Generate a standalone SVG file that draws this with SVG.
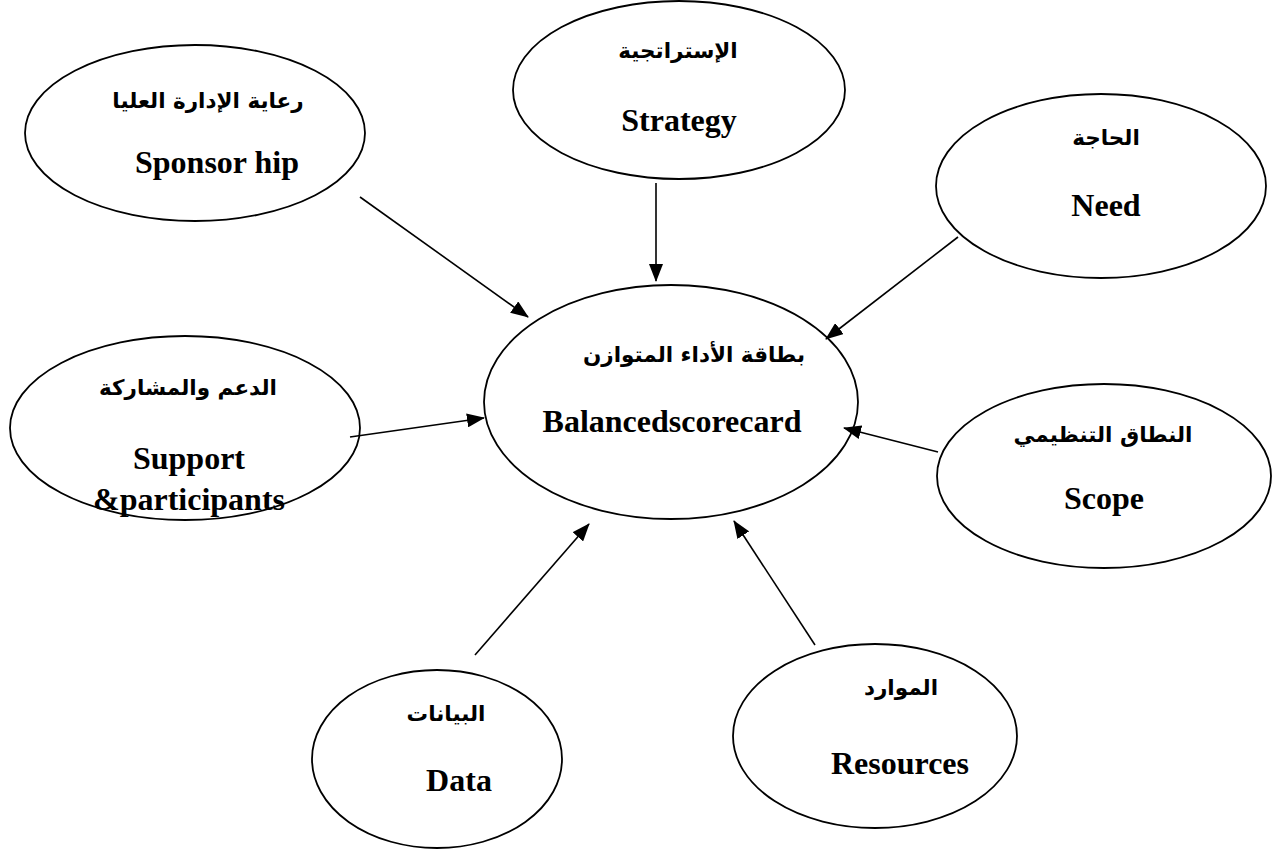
<svg xmlns="http://www.w3.org/2000/svg" width="1285" height="851" viewBox="0 0 1285 851">
<style>
.node ellipse{fill:#fff;stroke:#000;stroke-width:1.8}
.ar{font-family:"DejaVu Sans","Noto Sans",sans-serif;font-weight:bold;font-size:21.5px;text-anchor:middle;fill:#000}
.en{font-family:"Liberation Serif","Times New Roman",serif;font-weight:bold;font-size:32px;text-anchor:middle;fill:#000}
.conn line{stroke:#000;stroke-width:1.6;marker-end:url(#ah)}
</style>
<defs>
<marker id="ah" markerUnits="userSpaceOnUse" markerWidth="18" markerHeight="14" refX="17" refY="7" orient="auto">
<path d="M0,0 L18,7 L0,14 Z" fill="#000"/>
</marker>
</defs>
<rect width="1285" height="851" fill="#fff"/>
<g id="center" class="node">
<ellipse cx="671" cy="402" rx="187" ry="117"/>
<text class="ar" x="694" y="362">بطاقة الأداء المتوازن</text>
<text class="en" x="672" y="432">Balancedscorecard</text>
</g>
<g id="sponsorship" class="node">
<ellipse cx="195" cy="133" rx="170" ry="88"/>
<text class="ar" x="208" y="108">رعاية الإدارة العليا</text>
<text class="en" x="217" y="173">Sponsor hip</text>
</g>
<g id="strategy" class="node">
<ellipse cx="679" cy="90" rx="166" ry="89"/>
<text class="ar" x="678" y="58">الإستراتجية</text>
<text class="en" x="679" y="131">Strategy</text>
</g>
<g id="need" class="node">
<ellipse cx="1101" cy="186" rx="165" ry="92"/>
<text class="ar" x="1106" y="145">الحاجة</text>
<text class="en" x="1106" y="216">Need</text>
</g>
<g id="support" class="node">
<ellipse cx="185" cy="428" rx="175" ry="92"/>
<text class="ar" x="188" y="395">الدعم والمشاركة</text>
<text class="en" x="189" y="469">Support</text>
<text class="en" x="189" y="510">&amp;participants</text>
</g>
<g id="scope" class="node">
<ellipse cx="1104" cy="476" rx="167" ry="92"/>
<text class="ar" x="1103" y="442">النطاق التنظيمي</text>
<text class="en" x="1104" y="509">Scope</text>
</g>
<g id="data" class="node">
<ellipse cx="437" cy="759" rx="125" ry="89"/>
<text class="ar" x="446" y="721">البيانات</text>
<text class="en" x="459" y="791">Data</text>
</g>
<g id="resources" class="node">
<ellipse cx="875" cy="736" rx="142" ry="92"/>
<text class="ar" x="901" y="695">الموارد</text>
<text class="en" x="900" y="774">Resources</text>
</g>
<g id="connectors" class="conn">
<line x1="360" y1="197" x2="528" y2="317"/>
<line x1="656" y1="183" x2="656" y2="281"/>
<line x1="958" y1="237" x2="826" y2="339"/>
<line x1="350" y1="437" x2="484" y2="418"/>
<line x1="938" y1="452" x2="844" y2="428"/>
<line x1="475" y1="655" x2="589" y2="524"/>
<line x1="815" y1="645" x2="734" y2="521"/>
</g>
</svg>
